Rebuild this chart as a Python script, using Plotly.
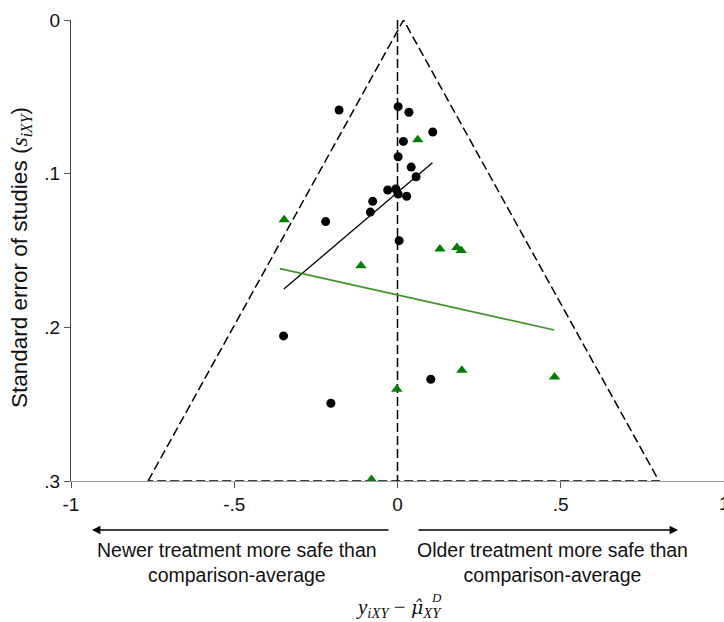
import plotly.graph_objects as go

# Study-level deviations from the comparison-average and their standard errors
circle_dev = [-0.179, 0.002, 0.035, 0.108, 0.018, 0.002, 0.042, 0.057, -0.030, -0.005,
              0.002, 0.028, -0.076, -0.083, -0.220, 0.005, -0.349, 0.102, -0.204]
circle_se = [0.0586, 0.0564, 0.060, 0.0729, 0.079, 0.089, 0.0957, 0.102, 0.1106, 0.110,
             0.1132, 0.1147, 0.118, 0.125, 0.1312, 0.1436, 0.2056, 0.2338, 0.2494]

triangle_dev = [0.062, -0.347, 0.130, 0.182, 0.195, -0.112, 0.197, 0.481, -0.002, -0.080]
triangle_se = [0.078, 0.130, 0.149, 0.148, 0.150, 0.160, 0.228, 0.2323, 0.2403, 0.299]

# Fitted small-study lines (end points)
fit_black_x = [-0.348, 0.107]
fit_black_y = [0.175, 0.0929]
fit_green_x = [-0.360, 0.480]
fit_green_y = [0.1618, 0.2017]

# Pseudo confidence funnel and reference line
funnel_x = [-0.764, 0.0185, 0.801, -0.764]
funnel_y = [0.300, 0.0, 0.300, 0.300]
ref_x = [0.0, 0.0]
ref_y = [0.0, 0.300]

x_ticks = [-1, -0.5, 0, 0.5, 1]
x_ticktext = ["-1", "-.5", "0", ".5", "1"]
y_ticks = [0, 0.1, 0.2, 0.3]
y_ticktext = ["0", ".1", ".2", ".3"]

GREEN = "rgb(0,128,0)"
GREEN_LINE = "rgb(60,150,40)"
DASH = "9px,4px"
FONT = "Liberation Sans, Arial, sans-serif"
MATH = "Liberation Serif, DejaVu Serif, serif"

fig = go.Figure()

fig.add_trace(go.Scatter(x=funnel_x, y=funnel_y, mode="lines",
                         line=dict(color="black", width=1.5, dash=DASH),
                         cliponaxis=False, hoverinfo="skip"))
fig.add_trace(go.Scatter(x=ref_x, y=ref_y, mode="lines",
                         line=dict(color="black", width=1.5, dash=DASH),
                         cliponaxis=False, hoverinfo="skip"))
fig.add_trace(go.Scatter(x=fit_black_x, y=fit_black_y, mode="lines",
                         line=dict(color="black", width=1.3)))
fig.add_trace(go.Scatter(x=fit_green_x, y=fit_green_y, mode="lines",
                         line=dict(color=GREEN_LINE, width=1.6)))
fig.add_trace(go.Scatter(x=circle_dev, y=circle_se, mode="markers",
                         marker=dict(symbol="circle", size=9, color="black"),
                         cliponaxis=False))
fig.add_trace(go.Scatter(x=triangle_dev, y=triangle_se, mode="markers",
                         marker=dict(symbol="triangle-up", size=10, color=GREEN),
                         cliponaxis=False))

W, H = 724, 622
L, R, T, B = 71, 0, 20, 141
pw, ph = W - L - R, H - T - B


def px(xp):
    return (xp - L) / pw


def py(yp):
    return (H - B - yp) / ph


y_title = ("Standard error of studies ("
           "<span style='font-family:Liberation Serif, serif;font-size:24px'><i>s</i></span>"
           "<sub><span style='font-family:Liberation Serif, serif'><i>iXY</i></span></sub>)")

x_title = ("<i>y</i><sub><i>iXY</i></sub> − "
           "<span style='font-family:DejaVu Serif, serif;font-size:19px'><i>μ̂</i></span>"
           "<sub><i>XY</i></sub>")

annotations = [
    dict(text=y_title, x=px(20), y=py(258), textangle=-90,
         font=dict(size=22.5, family=FONT, color="#111")),
    dict(text="Newer treatment more safe than<br>comparison-average",
         x=px(236.5), y=py(562), font=dict(size=19.5, family=FONT, color="#111")),
    dict(text="Older treatment more safe than<br>comparison-average",
         x=px(552.5), y=py(562), font=dict(size=19.5, family=FONT, color="#111")),
    dict(text=x_title, x=px(399), y=py(608), font=dict(size=21, family=MATH, color="#111")),
    dict(text="<i>D</i>", x=px(436), y=py(597), font=dict(size=13, family=MATH, color="#111")),
    # right-hand end label of the x axis, half cut by the page edge
    dict(text="1", x=px(724.5), y=py(503), font=dict(size=19, family=FONT, color="#111")),
]
for a in annotations:
    a.update(xref="paper", yref="paper", showarrow=False, xanchor="center", yanchor="middle")

# Direction arrows beneath the axis
annotations.append(dict(x=(93 - 398.5) / 326.5, y=py(530), xref="x", yref="paper",
                        ax=298, ay=0, text="", showarrow=True, arrowhead=2,
                        arrowsize=1.2, arrowwidth=1.4, arrowcolor="black"))
annotations.append(dict(x=(679 - 398.5) / 326.5, y=py(530), xref="x", yref="paper",
                        ax=-261, ay=0, text="", showarrow=True, arrowhead=2,
                        arrowsize=1.2, arrowwidth=1.4, arrowcolor="black"))

fig.update_layout(
    width=W, height=H,
    margin=dict(l=L, r=R, t=T, b=B, pad=0),
    paper_bgcolor="white", plot_bgcolor="white",
    showlegend=False,
    font=dict(family=FONT, size=19, color="#111"),
    annotations=annotations,
    xaxis=dict(range=[-1, 1], tickvals=x_ticks, ticktext=x_ticktext,
               showgrid=False, zeroline=False, showline=True, linecolor="#999",
               linewidth=1, ticks="outside", ticklen=6, tickcolor="#555",
               tickfont=dict(size=19, family=FONT), automargin=False),
    yaxis=dict(range=[0.3, 0], tickvals=y_ticks, ticktext=y_ticktext,
               showgrid=False, zeroline=False, showline=True, linecolor="#444",
               linewidth=1, ticks="outside", ticklen=6, tickcolor="#555",
               tickfont=dict(size=19, family=FONT), automargin=False),
)

fig.write_html("out.html")
